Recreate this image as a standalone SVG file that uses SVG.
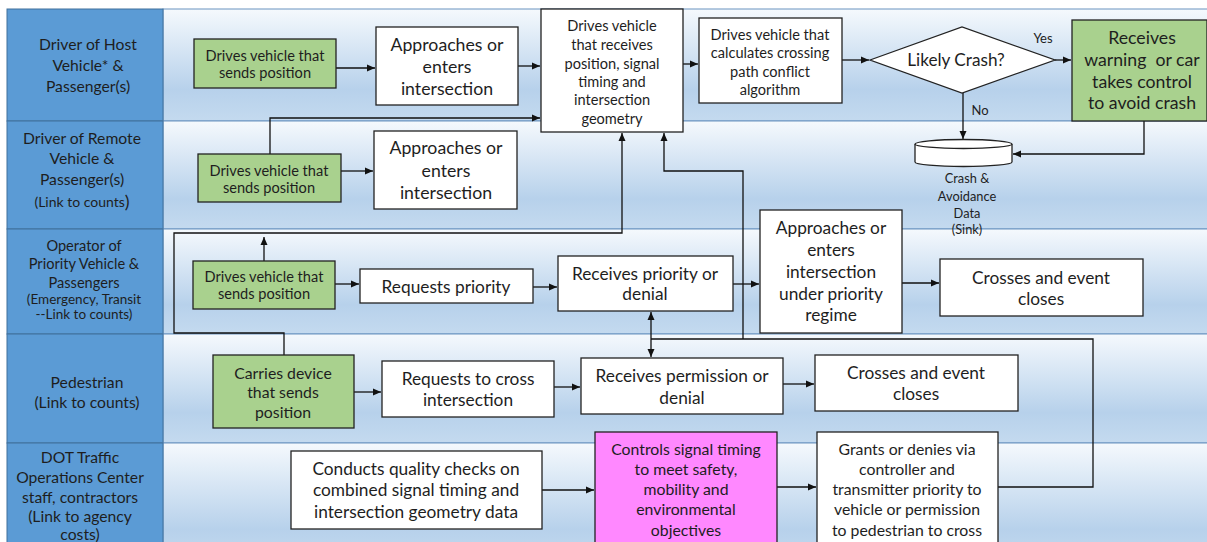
<svg xmlns="http://www.w3.org/2000/svg" width="1207" height="542" viewBox="0 0 1207 542">
<defs>
<linearGradient id="lg" x1="0" y1="0" x2="0" y2="1">
<stop offset="0" stop-color="#f5f9fd"/>
<stop offset="0.72" stop-color="#b7d1eb"/>
<stop offset="1" stop-color="#c4daef"/>
</linearGradient>
<marker id="ah" markerUnits="userSpaceOnUse" markerWidth="9" markerHeight="8" refX="8" refY="4" orient="auto">
<path d="M0,0.5 L8,4 L0,7.5 z" fill="#111"/>
</marker>
<style>
.lab{fill:#5b9bd5;stroke:#41719c;stroke-width:1}
.lane{fill:url(#lg);stroke:#6a93c0;stroke-width:1}
.box{fill:#fff;stroke:#222;stroke-width:1.3}
.grn{fill:#a9d18e;stroke:#222;stroke-width:1.3}
.mag{fill:#ff88ff;stroke:#222;stroke-width:1.3}
text{font-family:Lato,"Liberation Sans",sans-serif;fill:#1e1e1e;text-anchor:middle;dominant-baseline:central}
.t16{font-size:17.7px}
.t15{font-size:17.3px}
.lc{font-size:17.2px}
.t14{font-size:15.7px}
.t13{font-size:15.8px}
.t12{font-size:14.6px}
.l3a{font-size:14.6px}
.l3b{font-size:13.5px}
.t11{font-size:13px}
.t10{font-size:12.8px}
.c{fill:none;stroke:#111;stroke-width:1.3}
.ca{fill:none;stroke:#111;stroke-width:1.3;marker-end:url(#ah)}
</style>
</defs>

<g id="lanes">
<g id="lane1"><rect class="lane" x="163" y="9" width="1050" height="112"/><rect class="lab" x="7" y="9" width="156" height="112"/>
<text class="t14" x="88" y="44">Driver of Host</text><text class="t14" x="88" y="65">Vehicle* &amp;</text><text class="t14" x="88" y="86">Passenger(s)</text></g>
<g id="lane2"><rect class="lane" x="163" y="121" width="1050" height="108"/><rect class="lab" x="7" y="121" width="156" height="108"/>
<text class="t14" x="82" y="138">Driver of Remote</text><text class="t14" x="82" y="158">Vehicle &amp;</text><text class="t14" x="82" y="179">Passenger(s)</text><text font-size="14px" x="82" y="201">(Link to counts<tspan font-size="18px">)</tspan></text></g>
<g id="lane3"><rect class="lane" x="163" y="229" width="1050" height="105"/><rect class="lab" x="7" y="229" width="156" height="105"/>
<text class="l3a" x="84" y="245">Operator of</text><text class="l3a" x="84" y="263">Priority Vehicle &amp;</text><text class="l3a" x="84" y="282">Passengers</text><text class="l3b" x="84" y="299">(Emergency, Transit</text><text class="l3b" x="84" y="314">--Link to counts)</text></g>
<g id="lane4"><rect class="lane" x="163" y="334" width="1050" height="109"/><rect class="lab" x="7" y="334" width="156" height="109"/>
<text class="t14" x="87" y="382">Pedestrian</text><text class="t14" x="87" y="402">(Link to counts)</text></g>
<g id="lane5"><rect class="lane" x="163" y="443" width="1050" height="120"/><rect class="lab" x="7" y="443" width="156" height="120"/>
<text class="t14" x="80" y="457">DOT Traffic</text><text class="t14" x="80" y="477">Operations Center</text><text class="t14" x="80" y="497">staff, contractors</text><text class="t14" x="80" y="516">(Link to agency</text><text class="t14" x="80" y="534">costs)</text></g>
</g>

<g id="connectors">
<path class="ca" d="M336,68 H375"/>
<path class="ca" d="M518,66 H540"/>
<path class="ca" d="M683,64 H698"/>
<path class="ca" d="M842,60 H869"/>
<path class="ca" d="M1055,60 H1071"/>
<path class="ca" d="M963,93 V139"/>
<path class="ca" d="M1144,121 V154 H1013"/>
<path class="ca" d="M341,171 H373"/>
<path class="ca" d="M270,154 V118 H540"/>
<path class="ca" d="M264,261 V237"/>
<path class="ca" d="M284,355 V333 H174 V233 H622 V133"/>
<path class="ca" d="M335,284 H359"/>
<path class="ca" d="M533,287 H557"/>
<path class="ca" d="M733,284 H759"/>
<path class="ca" d="M902,283 H939"/>
<path class="c" d="M998,487 H1093 V339 H651"/>
<path class="ca" d="M651,339 V312"/>
<path class="ca" d="M651,339 V357"/>
<path class="ca" d="M743,339 V171 H664 V133"/>
<path class="ca" d="M354,392 H381"/>
<path class="ca" d="M554,387 H580"/>
<path class="ca" d="M783,384 H814"/>
<path class="ca" d="M542,490 H594"/>
<path class="ca" d="M777,487 H816"/>
</g>

<g id="host-sends"><rect class="grn" x="194" y="39" width="142" height="49"/><text class="t12" x="265" y="55">Drives vehicle that</text><text class="t12" x="265" y="72">sends position</text></g>
<g id="host-approaches"><rect class="box" x="376" y="27" width="142" height="78"/><text class="t16" x="447" y="44">Approaches or</text><text class="t16" x="447" y="66">enters</text><text class="t16" x="447" y="88">intersection</text></g>
<g id="host-receives"><rect class="box" x="541" y="9" width="142" height="123"/><text class="t12" x="612" y="25">Drives vehicle</text><text class="t12" x="612" y="44">that receives</text><text class="t12" x="612" y="63">position, signal</text><text class="t12" x="612" y="81">timing and</text><text class="t12" x="612" y="99">intersection</text><text class="t12" x="612" y="118">geometry</text></g>
<g id="host-calculates"><rect class="box" x="699" y="18" width="143" height="85"/><text class="t12" x="770" y="34">Drives vehicle that</text><text class="t12" x="770" y="52">calculates crossing</text><text class="t12" x="770" y="71">path conflict</text><text class="t12" x="770" y="89">algorithm</text></g>
<g id="likely-crash"><polygon class="box" points="870,60 962,27 1055,60 962,93"/><text class="lc" x="956" y="59">Likely Crash?</text><text class="t11" x="1043" y="38">Yes</text><text class="t11" x="980" y="110">No</text></g>
<g id="host-warning"><rect class="grn" x="1072" y="20" width="135" height="101"/><text class="t16" x="1142" y="37">Receives</text><text class="t16" x="1142" y="59" xml:space="preserve">warning  or car</text><text class="t16" x="1142" y="81">takes control</text><text class="t16" x="1142" y="102">to avoid crash</text></g>
<g id="crash-data"><path class="box" d="M915,144 V162 A48.5,4.5 0 0 0 1012,162 V144"/><ellipse class="box" cx="963.5" cy="144" rx="48.5" ry="4.5"/>
<text class="t10" x="967" y="178">Crash &amp;</text><text class="t10" x="967" y="196">Avoidance</text><text class="t10" x="967" y="213">Data</text><text class="t10" x="967" y="229">(Sink)</text></g>

<g id="remote-sends"><rect class="grn" x="198" y="154" width="143" height="48"/><text class="t12" x="269" y="170">Drives vehicle that</text><text class="t12" x="269" y="187">sends position</text></g>
<g id="remote-approaches"><rect class="box" x="374" y="131" width="143" height="78"/><text class="t16" x="446" y="147">Approaches or</text><text class="t16" x="446" y="170">enters</text><text class="t16" x="446" y="192">intersection</text></g>

<g id="priority-sends"><rect class="grn" x="193" y="261" width="142" height="48"/><text class="t12" x="264" y="276">Drives vehicle that</text><text class="t12" x="264" y="293">sends position</text></g>
<g id="requests-priority"><rect class="box" x="360" y="269" width="173" height="34"/><text class="t15" x="446" y="286">Requests priority</text></g>
<g id="receives-priority"><rect class="box" x="558" y="256" width="175" height="55"/><text class="t15" x="645" y="273">Receives priority or</text><text class="t15" x="645" y="293">denial</text></g>
<g id="approaches-priority"><rect class="box" x="760" y="210" width="142" height="123"/><text class="t15" x="831" y="227">Approaches or</text><text class="t15" x="831" y="249">enters</text><text class="t15" x="831" y="271">intersection</text><text class="t15" x="831" y="293">under priority</text><text class="t15" x="831" y="314">regime</text></g>
<g id="priority-crosses"><rect class="box" x="940" y="259" width="203" height="57"/><text class="t15" x="1041" y="277">Crosses and event</text><text class="t15" x="1041" y="298">closes</text></g>

<g id="ped-carries"><rect class="grn" x="213" y="355" width="141" height="73"/><text class="t13" x="283" y="372">Carries device</text><text class="t13" x="283" y="391">that sends</text><text class="t13" x="283" y="411">position</text></g>
<g id="ped-requests"><rect class="box" x="382" y="361" width="172" height="56"/><text class="t15" x="468" y="378">Requests to cross</text><text class="t15" x="468" y="399">intersection</text></g>
<g id="ped-receives"><rect class="box" x="581" y="358" width="202" height="56"/><text class="t15" x="682" y="375">Receives permission or</text><text class="t15" x="682" y="397">denial</text></g>
<g id="ped-crosses"><rect class="box" x="815" y="355" width="203" height="56"/><text class="t15" x="916" y="372">Crosses and event</text><text class="t15" x="916" y="393">closes</text></g>

<g id="dot-checks"><rect class="box" x="291" y="451" width="251" height="78"/><text class="t15" x="416" y="468">Conducts quality checks on</text><text class="t15" x="416" y="489">combined signal timing and</text><text class="t15" x="416" y="511">intersection geometry data</text></g>
<g id="dot-controls"><rect class="mag" x="595" y="432" width="182" height="130"/><text class="t13" x="686" y="448">Controls signal timing</text><text class="t13" x="686" y="468">to meet safety,</text><text class="t13" x="686" y="488">mobility and</text><text class="t13" x="686" y="508">environmental</text><text class="t13" x="686" y="529">objectives</text></g>
<g id="dot-grants"><rect class="box" x="817" y="432" width="181" height="130"/><text class="t13" x="907" y="448">Grants or denies via</text><text class="t13" x="907" y="468">controller and</text><text class="t13" x="907" y="488">transmitter priority to</text><text class="t13" x="907" y="508">vehicle or permission</text><text class="t13" x="907" y="529">to pedestrian to cross</text></g>
</svg>
